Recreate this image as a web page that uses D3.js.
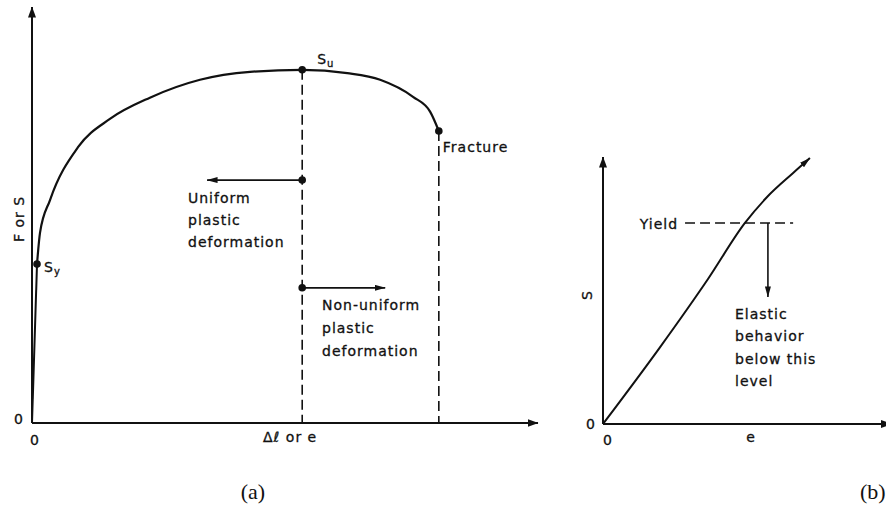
<!DOCTYPE html>
<html>
<head>
<meta charset="utf-8">
<script src="https://cdn.jsdelivr.net/npm/d3@7"></script>
<style>
  html, body { margin: 0; padding: 0; background: #fff; }
  svg { display: block; }
  .lbl { font-family: "DejaVu Sans", sans-serif; font-size: 14px; letter-spacing: 1px; fill: #111; stroke: #111; stroke-width: 0.3px; }
  .cap { font-family: "Liberation Serif", serif; font-size: 22px; fill: #111; }
</style>
</head>
<body>
<script>
// (a) engineering stress-strain curve: elastic rise, then plastic flow to fracture
const strainA = [0.99, 1.58, 3.56, 9.09, 15.4, 23.3, 33.2, 43.1, 53.4, 62.3, 68.8, 75.3, 78.7, 80.4];
const stressA = [38.2, 45.7, 53.6, 66.3, 73.1, 78.2, 82.5, 84.4, 84.9, 84.1, 82.5, 78.4, 74.8, 70.2];
const yieldA = [0.99, 38.2];     // S_y
const ultimateA = [53.4, 84.9];  // S_u
const fractureA = [80.4, 70.2];  // Fracture
const uniformMark = [53.4, 58.4, 34.6];      // x, y, arrow end x
const nonUniformMark = [53.4, 32.5, 69.8];   // x, y, arrow end x

// (b) stress-strain curve with the yield level marked
const strainB = [0, 20.4, 37.5, 50.7, 58.6, 67.9, 73.9];
const stressB = [0, 28.8, 54.3, 75.3, 85.0, 94.0, 99.6];
const yieldLevelB = 75.3;
const yieldSpanB = [29.3, 67.9];
const elasticArrowB = [58.9, 47.6]; // x, arrow end y

const W = 886, H = 513;
const svg = d3.select("body").append("svg").attr("width", W).attr("height", H);

const defs = svg.append("defs");
function arrowMarker(id, len, wid) {
  defs.append("marker")
    .attr("id", id)
    .attr("viewBox", `0 0 ${len} ${wid}`)
    .attr("refX", len - 0.5).attr("refY", wid / 2)
    .attr("markerWidth", len).attr("markerHeight", wid)
    .attr("markerUnits", "userSpaceOnUse")
    .attr("orient", "auto")
    .append("path")
    .attr("d", `M0,0 L${len},${wid / 2} L0,${wid} Z`)
    .attr("fill", "#111");
}
arrowMarker("axisArrow", 11, 8);
arrowMarker("smallArrow", 11, 6);

const ink = "#111";

// ---------- panel (a) ----------
const xA = d3.scaleLinear().domain([0, 100]).range([32, 538]);
const yA = d3.scaleLinear().domain([0, 100]).range([423, 7]);
const gA = svg.append("g");

// axes
gA.append("line").attr("x1", xA(0)).attr("y1", yA(0)).attr("x2", xA(0)).attr("y2", yA(100))
  .attr("stroke", ink).attr("stroke-width", 2).attr("marker-end", "url(#axisArrow)");
gA.append("line").attr("x1", xA(0)).attr("y1", yA(0)).attr("x2", xA(100)).attr("y2", yA(0))
  .attr("stroke", ink).attr("stroke-width", 2).attr("marker-end", "url(#axisArrow)");

// dashed drop lines
[ultimateA, fractureA].forEach(p => {
  gA.append("line").attr("x1", xA(p[0])).attr("y1", yA(p[1])).attr("x2", xA(p[0])).attr("y2", yA(0))
    .attr("stroke", ink).attr("stroke-width", 1.6).attr("stroke-dasharray", "10,5");
});

// elastic segment
gA.append("line").attr("x1", xA(0)).attr("y1", yA(0)).attr("x2", xA(yieldA[0])).attr("y2", yA(yieldA[1]))
  .attr("stroke", ink).attr("stroke-width", 2);

// plastic curve
const lineA = d3.line().x(d => xA(d[0])).y(d => yA(d[1])).curve(d3.curveMonotoneX);
gA.append("path").attr("d", lineA(d3.zip(strainA, stressA)))
  .attr("fill", "none").attr("stroke", ink).attr("stroke-width", 2.2);

// region arrows
gA.append("line").attr("x1", xA(uniformMark[0])).attr("y1", yA(uniformMark[1]))
  .attr("x2", xA(uniformMark[2])).attr("y2", yA(uniformMark[1]))
  .attr("stroke", ink).attr("stroke-width", 1.8).attr("marker-end", "url(#smallArrow)");
gA.append("line").attr("x1", xA(nonUniformMark[0])).attr("y1", yA(nonUniformMark[1]))
  .attr("x2", xA(nonUniformMark[2])).attr("y2", yA(nonUniformMark[1]))
  .attr("stroke", ink).attr("stroke-width", 1.8).attr("marker-end", "url(#smallArrow)");

// dots
[yieldA, ultimateA, fractureA, uniformMark, nonUniformMark].forEach(p => {
  gA.append("circle").attr("cx", xA(p[0])).attr("cy", yA(p[1])).attr("r", 3.8).attr("fill", ink);
});

// labels
const su = gA.append("text").attr("class", "lbl").attr("x", xA(ultimateA[0]) + 15).attr("y", yA(ultimateA[1]) - 6);
su.append("tspan").text("S");
su.append("tspan").attr("font-size", 10).attr("dy", 3).text("u");

const sy = gA.append("text").attr("class", "lbl").attr("x", xA(yieldA[0]) + 7).attr("y", yA(yieldA[1]) + 8);
sy.append("tspan").text("S");
sy.append("tspan").attr("font-size", 10).attr("dy", 3).text("y");

gA.append("text").attr("class", "lbl").attr("x", xA(fractureA[0]) + 4).attr("y", yA(fractureA[1]) + 21).text("Fracture");

function block(g, x, y, lines, gap) {
  const t = g.append("text").attr("class", "lbl").attr("x", x).attr("y", y);
  lines.forEach((s, i) => t.append("tspan").attr("x", x).attr("dy", i ? gap : 0).text(s));
}
block(gA, 188, 203, ["Uniform", "plastic", "deformation"], 22);
block(gA, 322, 310, ["Non-uniform", "plastic", "deformation"], 23);

gA.append("text").attr("class", "lbl").attr("x", 19).attr("y", 424).attr("text-anchor", "middle").text("0");
gA.append("text").attr("class", "lbl").attr("x", 35).attr("y", 445).attr("text-anchor", "middle").text("0");
gA.append("text").attr("class", "lbl").attr("x", 263).attr("y", 442).text("Δℓ or e");
gA.append("text").attr("class", "lbl").attr("text-anchor", "middle")
  .attr("transform", "translate(24,219) rotate(-90)").text("F or S");

gA.append("text").attr("class", "cap").attr("x", 253).attr("y", 499).attr("text-anchor", "middle").text("(a)");

// ---------- panel (b) ----------
const xB = d3.scaleLinear().domain([0, 100]).range([603, 883]);
const yB = d3.scaleLinear().domain([0, 100]).range([424, 157]);
const gB = svg.append("g");

gB.append("line").attr("x1", xB(0)).attr("y1", yB(0)).attr("x2", xB(0)).attr("y2", yB(100))
  .attr("stroke", ink).attr("stroke-width", 2).attr("marker-end", "url(#axisArrow)");
gB.append("line").attr("x1", xB(0)).attr("y1", yB(0)).attr("x2", xB(103)).attr("y2", yB(0))
  .attr("stroke", ink).attr("stroke-width", 2).attr("marker-end", "url(#axisArrow)");

const lineB = d3.line().x(d => xB(d[0])).y(d => yB(d[1])).curve(d3.curveMonotoneX);
gB.append("path").attr("d", lineB(d3.zip(strainB, stressB)))
  .attr("fill", "none").attr("stroke", ink).attr("stroke-width", 2)
  .attr("marker-end", "url(#smallArrow)");

gB.append("line").attr("x1", xB(yieldSpanB[0])).attr("y1", yB(yieldLevelB))
  .attr("x2", xB(yieldSpanB[1])).attr("y2", yB(yieldLevelB))
  .attr("stroke", ink).attr("stroke-width", 1.6).attr("stroke-dasharray", "10,5");
gB.append("line").attr("x1", xB(elasticArrowB[0])).attr("y1", yB(yieldLevelB))
  .attr("x2", xB(elasticArrowB[0])).attr("y2", yB(elasticArrowB[1]))
  .attr("stroke", ink).attr("stroke-width", 1.6).attr("marker-end", "url(#smallArrow)");

gB.append("text").attr("class", "lbl").attr("x", xB(yieldSpanB[0]) - 7).attr("y", yB(yieldLevelB) + 6)
  .attr("text-anchor", "end").text("Yield");
block(gB, 735, 319, ["Elastic", "behavior", "below this", "level"], 22.3);

gB.append("text").attr("class", "lbl").attr("x", 591).attr("y", 429).attr("text-anchor", "middle").text("0");
gB.append("text").attr("class", "lbl").attr("x", 608).attr("y", 445).attr("text-anchor", "middle").text("0");
gB.append("text").attr("class", "lbl").attr("x", 751).attr("y", 442).attr("text-anchor", "middle").text("e");
gB.append("text").attr("class", "lbl").attr("text-anchor", "middle")
  .attr("transform", "translate(592,295) rotate(-90)").text("S");

gB.append("text").attr("class", "cap").attr("x", 860).attr("y", 499).text("(b)");
</script>
</body>
</html>
